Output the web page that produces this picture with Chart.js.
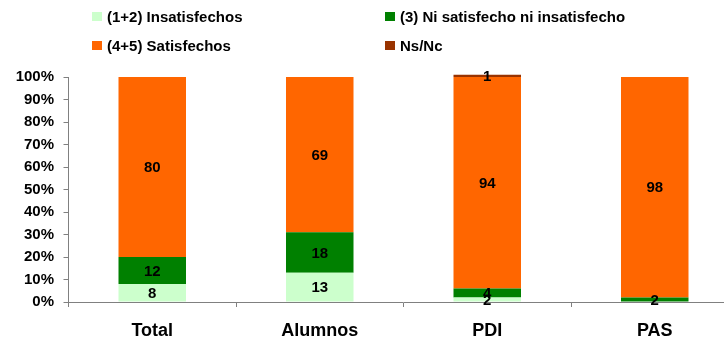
<!DOCTYPE html>
<html>
<head>
<meta charset="utf-8">
<script src="https://cdn.jsdelivr.net/npm/chart.js@4/dist/chart.umd.min.js"></script>
<style>
  html, body { margin: 0; padding: 0; background: #fff; }
  body { width: 724px; height: 339px; overflow: hidden; position: relative; }
  #wrap { position: absolute; left: 0; top: 0; width: 740px; height: 339px; }
  .legend { position: absolute; left: 0; top: 0; width: 724px; height: 60px;
            font: bold 15px "Liberation Sans", Arial, sans-serif; color: #000; }
  .item { position: absolute; display: flex; align-items: center; white-space: nowrap; }
  .box { width: 10px; height: 9px; margin-right: 5px; }
</style>
</head>
<body>
<div id="wrap"><canvas id="c" width="740" height="339"></canvas></div>
<div class="legend" id="legend"></div>
<script>
// Categories and series (percentages)
const categories = ['Total', 'Alumnos', 'PDI', 'PAS'];
const seriesNames = ['(1+2) Insatisfechos', '(3) Ni satisfecho ni insatisfecho', '(4+5) Satisfechos', 'Ns/Nc'];
const insatisfechos = [8, 13, 2, 0];
const niSatisfecho = [12, 18, 4, 2];
const satisfechos = [80, 69, 94, 98];
const nsnc = [0, 0, 1, 0];
const yTicks = [0, 10, 20, 30, 40, 50, 60, 70, 80, 90, 100];

const colors = ['#CCFFCC', '#008000', '#FF6600', '#993300'];
const seriesValues = [insatisfechos, niSatisfecho, satisfechos, nsnc];

// HTML legend, two rows by two columns
const legendPos = [
  { left: 92, top: 8 }, { left: 385, top: 8 },
  { left: 92, top: 37 }, { left: 385, top: 37 }
];
const legendEl = document.getElementById('legend');
seriesNames.forEach((name, i) => {
  const it = document.createElement('div');
  it.className = 'item';
  it.style.left = legendPos[i].left + 'px';
  it.style.top = legendPos[i].top + 'px';
  const b = document.createElement('span');
  b.className = 'box';
  b.style.background = colors[i];
  const t = document.createElement('span');
  t.textContent = name;
  it.appendChild(b); it.appendChild(t);
  legendEl.appendChild(it);
});

// Value labels centred in each segment
const segmentLabels = {
  id: 'segmentLabels',
  afterDatasetsDraw(chart) {
    const ctx = chart.ctx;
    ctx.save();
    ctx.font = 'bold 15px "Liberation Sans", Arial, sans-serif';
    ctx.fillStyle = '#000';
    ctx.textAlign = 'center';
    ctx.textBaseline = 'middle';
    chart.data.datasets.forEach((ds, di) => {
      chart.getDatasetMeta(di).data.forEach((bar, i) => {
        const v = ds.data[i];
        if (!v) return;
        const y = (bar.y + bar.base) / 2;
        ctx.fillText(String(v), bar.x, y + 1);
      });
    });
    ctx.restore();
  }
};

const font = { family: '"Liberation Sans", Arial, sans-serif', weight: 'bold' };

new Chart(document.getElementById('c'), {
  type: 'bar',
  data: {
    labels: categories,
    datasets: seriesValues.map((vals, i) => ({
      label: seriesNames[i],
      data: vals,
      backgroundColor: colors[i],
      borderWidth: 0,
      categoryPercentage: 1,
      barPercentage: 0.403,
      clip: false
    }))
  },
  options: {
    responsive: false,
    animation: false,
    layout: { padding: { left: 0, right: 1.5, top: 77, bottom: 0 } },
    plugins: { legend: { display: false }, tooltip: { enabled: false } },
    scales: {
      x: {
        stacked: true,
        border: { color: '#808080', width: 1 },
        grid: { offset: true, drawOnChartArea: false, drawTicks: true, tickLength: 5, color: '#808080' },
        ticks: { color: '#000', font: { ...font, size: 18 }, padding: 13, maxRotation: 0 },
        afterFit(s) { s.height = 37; }
      },
      y: {
        stacked: true,
        min: 0, max: 100,
        border: { color: '#808080', width: 1 },
        grid: { drawOnChartArea: false, drawTicks: true, tickLength: 5, color: '#808080' },
        afterBuildTicks(s) { s.ticks = yTicks.map(v => ({ value: v })); },
        ticks: { color: '#000', font: { ...font, size: 15 }, padding: 9.5, callback: v => v + '%' },
        afterFit(s) { s.width = 68.5; }
      }
    }
  },
  plugins: [segmentLabels]
});
</script>
</body>
</html>
